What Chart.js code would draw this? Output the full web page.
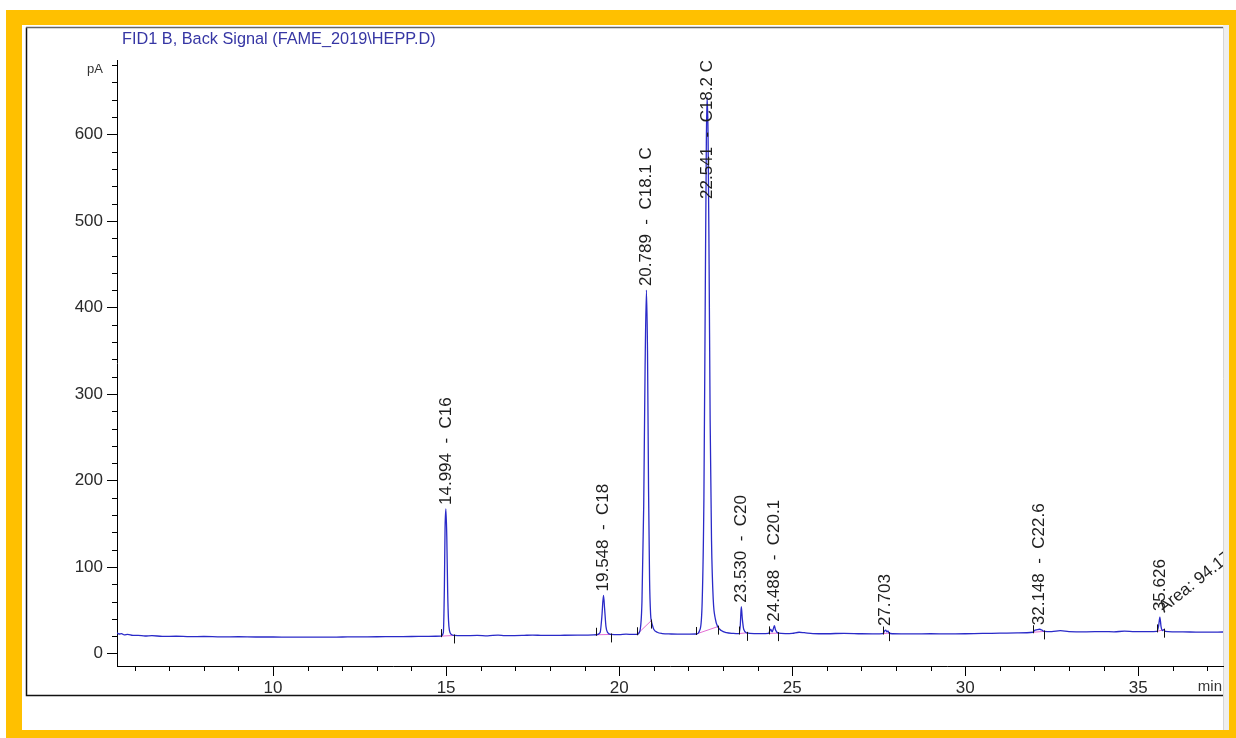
<!DOCTYPE html>
<html>
<head>
<meta charset="utf-8">
<script src="https://cdn.jsdelivr.net/npm/chart.js@4.4.1/dist/chart.umd.min.js"></script>
<style>
  html, body { margin: 0; padding: 0; background: #fff; overflow: hidden; }
  #c { position: absolute; left: 0; top: 0; }
</style>
</head>
<body>
<canvas id="c" width="1236" height="738"></canvas>
<script>
// FID1 B back-signal trace: retention time (min) and detector signal (pA), apex points excluded
const traceTimes = [
  5.49, 5.55, 5.62, 5.7, 5.8, 5.95, 6.1, 6.3, 6.5, 6.8, 7.2, 7.6, 8.0, 8.5, 9.0, 9.5, 10.0, 10.5,
  11.0, 11.5, 12.0, 12.5, 13.0, 13.5, 14.0, 14.5, 14.85, 14.92, 14.95, 14.97,
  15.02, 15.045, 15.07, 15.1, 15.15, 15.23, 15.5, 15.9, 16.2, 16.5, 16.7, 17.2, 17.5, 17.8, 18.3,
  18.8, 19.1, 19.34, 19.45, 19.5,
  19.58, 19.62, 19.67, 19.76, 20.0, 20.2, 20.4, 20.52, 20.6, 20.66, 20.71, 20.75,
  20.82, 20.85, 20.88, 20.91, 20.93, 20.96, 21.0, 21.1, 21.25, 21.5, 21.9, 22.23, 22.33, 22.4,
  22.45, 22.49, 22.52,
  22.57, 22.6, 22.63, 22.67, 22.72, 22.78, 22.85, 22.95, 23.1, 23.3, 23.46, 23.5,
  23.56, 23.6, 23.69, 23.9, 24.1, 24.32, 24.38, 24.42, 24.46,
  24.52, 24.6, 24.8, 25.0, 25.2, 25.35, 25.6, 26.0, 26.5, 27.0, 27.4, 27.62, 27.67,
  27.74, 27.77, 27.8, 27.9, 28.5, 29.0, 29.5, 30.0, 30.5, 31.0, 31.5, 31.96, 32.0, 32.08,
  32.22, 32.28, 32.5, 32.75, 33.0, 33.5, 34.0, 34.3, 34.6, 34.9, 35.3, 35.54, 35.59,
  35.66, 35.7, 35.74, 35.78, 36.0, 36.5, 37.0, 37.45
];
const traceSignal = [
  24, 22.5, 23, 21.5, 22, 20.8, 21, 20.2, 20.6, 19.8, 19.9, 19.5, 19.6, 19.2, 19.3, 19.0, 19.0, 18.9,
  18.9, 18.8, 19.0, 19.2, 19.3, 19.5, 19.6, 19.8, 20, 24, 75, 145,
  135, 72, 38, 26, 22, 20.8, 20.5, 20.8, 20.4, 21.2, 20.6, 20.8, 21.3, 20.8, 21.0,
  21.2, 21.3, 21.6, 24, 42,
  52, 31, 24, 22, 21.8, 22.3, 22, 22.2, 26, 60, 170, 330,
  350, 190, 85, 45, 38, 33, 28, 24.5, 23, 22.5, 22.3, 22.5, 27, 60,
  180, 420, 590,
  600, 450, 270, 130, 62, 40, 31, 26.5, 24, 23.2, 23, 32,
  40, 28, 23.8, 23.0, 23.0, 23.2, 28, 25, 29,
  27, 23.5, 23, 23.2, 24.5, 24, 23, 22.8, 23.3, 22.8, 22.7, 23, 26,
  25, 26, 23.5, 22.8, 22.6, 22.8, 22.6, 22.8, 23.2, 23.4, 23.8, 24.5, 26.5, 27.5,
  27, 25.5, 25.2, 26.3, 25.2, 25.0, 25.3, 25.0, 25.8, 25.2, 25.3, 25.5, 32,
  31, 26.5, 27.5, 25.5, 25, 24.8, 24.6, 24.8
];

// integrated peaks: retention time, apex signal (pA) and annotation
const peakTimes   = [14.994, 19.548, 20.789, 22.541, 23.530, 24.488, 27.703, 32.148, 35.626];
const peakHeights = [167, 67, 420, 643, 54, 32, 27, 28, 42];
const peakLabels  = ['14.994  -  C16', '19.548  -  C18', '20.789  -  C18.1 C', '22.541  -  C18.2 C',
                     '23.530  -  C20', '24.488  -  C20.1', '27.703', '32.148  -  C22.6', '35.626'];
// integration baseline: start / end times and the signal there
const peakStart   = [14.85, 19.34, 20.52, 22.23, 23.46, 24.32, 27.62, 31.96, 35.54];
const peakEnd     = [15.23, 19.76, 20.93, 22.85, 23.69, 24.60, 27.80, 32.28, 35.74];
const baseStart   = [20.0, 21.6, 22.2, 22.5, 23.0, 23.2, 23.0, 24.5, 25.5];
const baseEnd     = [20.8, 22.0, 38.0, 31.0, 23.8, 23.5, 23.5, 25.5, 27.5];
const areaNote    = 'Area: 94.1755';

// axes
const xMin = 5.49, xMax = 37.45;
const yMin = -14.5, yMax = 686;
const xTickLabels = [10, 15, 20, 25, 30, 35];
const yTickLabels = [0, 100, 200, 300, 400, 500, 600];
const signalTitle = 'FID1 B, Back Signal (FAME_2019\\HEPP.D)';
const yUnit = 'pA';
const xUnit = 'min';

const FONT = '"Liberation Sans", Arial, Helvetica, sans-serif';

// merge the apex points into the trace, in time order
const tracePoints = traceTimes.map((t, i) => ({ x: t, y: traceSignal[i] }))
  .concat(peakTimes.map((t, i) => ({ x: t, y: peakHeights[i] })))
  .sort((a, b) => a.x - b.x);

// integration baselines as separate segments
const baselinePoints = [];
peakStart.forEach((t, i) => {
  baselinePoints.push({ x: t, y: baseStart[i] }, { x: peakEnd[i], y: baseEnd[i] }, { x: peakEnd[i] + 0.001, y: null });
});

const isInt = v => Math.abs(v - Math.round(v)) < 1e-6;

const chemPlugin = {
  id: 'chemFrame',
  beforeDraw(chart) {
    const ctx = chart.ctx;
    ctx.save();
    ctx.fillStyle = '#ffffff';
    ctx.fillRect(0, 0, 1236, 738);
    ctx.fillStyle = '#ffc000';
    ctx.fillRect(6, 10, 1230, 728);
    ctx.fillStyle = '#ffffff';
    ctx.fillRect(22, 25, 1207, 705);
    ctx.fillStyle = '#eeeeee';
    ctx.fillRect(1223, 25, 6, 705);
    ctx.lineWidth = 1.5;
    ctx.strokeStyle = '#111';
    ctx.beginPath();
    ctx.moveTo(26.5, 27.5); ctx.lineTo(26.5, 695.5); ctx.lineTo(1223, 695.5);
    ctx.stroke();
    ctx.strokeStyle = '#666';
    ctx.lineWidth = 1.5;
    ctx.beginPath();
    ctx.moveTo(26, 27.5); ctx.lineTo(1223, 27.5);
    ctx.stroke();
    ctx.strokeStyle = '#d6d6d6';
    ctx.lineWidth = 1;
    ctx.beginPath();
    ctx.moveTo(1223.5, 27); ctx.lineTo(1223.5, 730);
    ctx.stroke();

    ctx.fillStyle = '#3636a4';
    ctx.font = '16.3px ' + FONT;
    ctx.textAlign = 'left';
    ctx.textBaseline = 'middle';
    ctx.fillText(signalTitle, 122, 40);
    ctx.restore();
  },
  afterDatasetsDraw(chart) {
    const { ctx, chartArea: a, scales: { x, y } } = chart;
    ctx.save();
    ctx.beginPath();
    ctx.rect(a.left, a.top - 2, a.right - a.left, a.bottom - a.top + 2);
    ctx.clip();

    // peak start / end event marks
    ctx.strokeStyle = '#111';
    ctx.lineWidth = 1;
    ctx.beginPath();
    peakStart.forEach((t, i) => {
      const px = Math.round(x.getPixelForValue(t)) + 0.5;
      const py = y.getPixelForValue(baseStart[i]);
      ctx.moveTo(px, py + 1); ctx.lineTo(px, py - 7);
      const ex = Math.round(x.getPixelForValue(peakEnd[i])) + 0.5;
      const ey = y.getPixelForValue(baseEnd[i]);
      ctx.moveTo(ex, ey - 1); ctx.lineTo(ex, ey + 8);
    });
    ctx.stroke();

    // retention-time annotations
    ctx.fillStyle = '#1e1e1e';
    ctx.font = '17px ' + FONT;
    ctx.textAlign = 'left';
    ctx.textBaseline = 'middle';
    peakTimes.forEach((t, i) => {
      const px = x.getPixelForValue(t);
      const len = ctx.measureText(peakLabels[i]).width;
      let start = y.getPixelForValue(peakHeights[i]) - (i === peakTimes.length - 1 ? 6 : 4);
      if (start - len < a.top) start = a.top + len;
      ctx.save();
      ctx.translate(px, start);
      ctx.rotate(-Math.PI / 2);
      ctx.fillText(peakLabels[i], 0, 0);
      ctx.restore();
    });

    // area note on the last peak
    const li = peakTimes.length - 1;
    ctx.save();
    ctx.translate(x.getPixelForValue(peakTimes[li]) + 4, y.getPixelForValue(peakHeights[li]) - 4);
    ctx.rotate(-0.67);
    ctx.textBaseline = 'alphabetic';
    ctx.fillText(areaNote, 0, 0);
    ctx.restore();
    ctx.restore();
  },
  afterDraw(chart) {
    const { ctx, chartArea: a, scales: { x, y } } = chart;
    ctx.save();
    ctx.strokeStyle = '#000';
    ctx.lineWidth = 1;
    ctx.beginPath();
    x.ticks.forEach(tk => {
      const px = Math.round(x.getPixelForValue(tk.value)) + 0.5;
      const major = isInt(tk.value) && Math.round(tk.value) % 5 === 0;
      ctx.moveTo(px, a.bottom); ctx.lineTo(px, a.bottom + (major ? 10 : 5));
    });
    y.ticks.forEach(tk => {
      const py = Math.round(y.getPixelForValue(tk.value)) + 0.5;
      const major = yTickLabels.includes(Math.round(tk.value));
      ctx.moveTo(a.left, py); ctx.lineTo(a.left - (major ? 10 : 5), py);
    });
    ctx.stroke();

    ctx.fillStyle = '#333';
    ctx.font = '13px ' + FONT;
    ctx.textAlign = 'right';
    ctx.textBaseline = 'middle';
    ctx.fillText(yUnit, 103, 69);
    ctx.font = '15px ' + FONT;
    ctx.fillText(xUnit, 1222, 687);
    ctx.restore();
  }
};

new Chart(document.getElementById('c'), {
  type: 'line',
  data: {
    datasets: [
      {
        data: tracePoints,
        borderColor: '#2a2ac8',
        borderWidth: 1.3,
        pointRadius: 0,
        cubicInterpolationMode: 'monotone',
        fill: false
      },
      {
        data: baselinePoints,
        borderColor: '#e46fd4',
        borderWidth: 1,
        pointRadius: 0,
        spanGaps: false,
        fill: false
      }
    ]
  },
  options: {
    responsive: false,
    animation: false,
    devicePixelRatio: 1,
    layout: { padding: { left: 0, top: 60, right: 13, bottom: 0 } },
    plugins: { legend: { display: false }, tooltip: { enabled: false }, title: { display: false } },
    scales: {
      x: {
        type: 'linear',
        min: xMin,
        max: xMax,
        afterFit(s) { s.height = 72; },
        border: { display: true, color: '#000', width: 1 },
        grid: { display: true, drawOnChartArea: false, drawTicks: true, tickLength: 10,
                color: 'rgba(0,0,0,0)', tickColor: 'rgba(0,0,0,0)' },
        ticks: {
          stepSize: 1, autoSkip: false, includeBounds: false, maxRotation: 0, padding: 2,
          color: '#2a2a2a', font: { family: FONT, size: 17 },
          callback: v => (isInt(v) && xTickLabels.includes(Math.round(v))) ? String(Math.round(v)) : ''
        }
      },
      y: {
        type: 'linear',
        min: yMin,
        max: yMax,
        afterFit(s) { s.width = 117; },
        border: { display: true, color: '#000', width: 1 },
        grid: { display: true, drawOnChartArea: false, drawTicks: true, tickLength: 10,
                color: 'rgba(0,0,0,0)', tickColor: 'rgba(0,0,0,0)' },
        ticks: {
          stepSize: 20, autoSkip: false, includeBounds: false, padding: 4,
          color: '#2a2a2a', font: { family: FONT, size: 17 },
          callback: v => yTickLabels.includes(Math.round(v)) && isInt(v) ? String(Math.round(v)) : ''
        }
      }
    }
  },
  plugins: [chemPlugin]
});
</script>
</body>
</html>
